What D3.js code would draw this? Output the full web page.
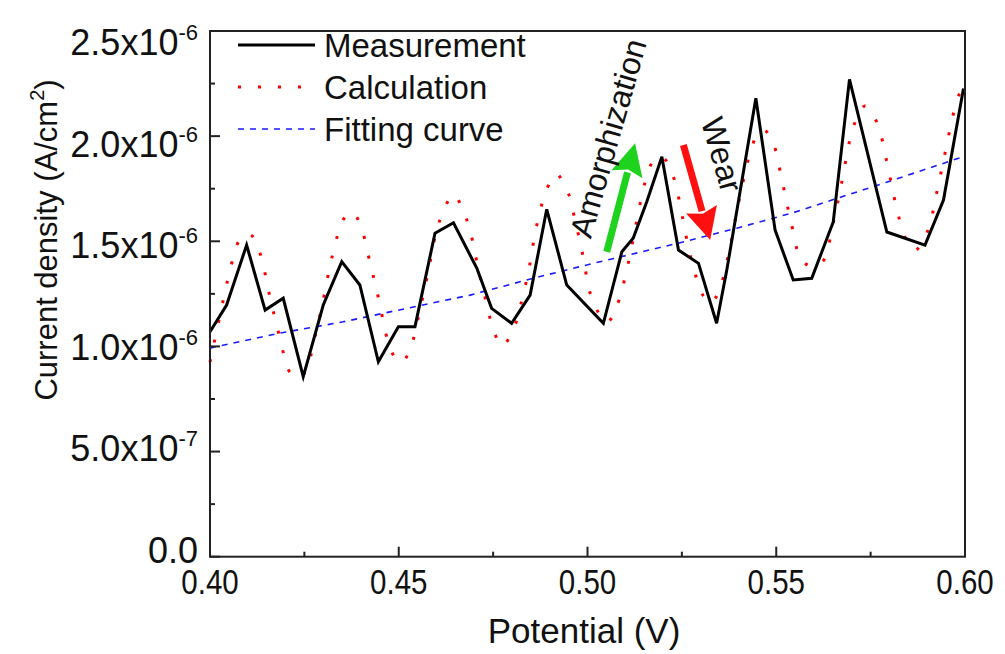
<!DOCTYPE html>
<html>
<head>
<meta charset="utf-8">
<script src="https://cdn.jsdelivr.net/npm/d3@7"></script>
<style>
  body { margin: 0; background: #fff; }
  text { font-family: "Liberation Sans", Arial, sans-serif; fill: #111; }
</style>
</head>
<body>
<svg width="1005" height="654"></svg>
<script>
// Measurement (black solid), V and current density in 1e-6 A/cm2
const measV = [0.400, 0.4044, 0.4097, 0.4146, 0.4194, 0.4247, 0.4300, 0.4349, 0.4397, 0.4446,
  0.4499, 0.4543, 0.4596, 0.4645, 0.4707, 0.4746, 0.4799, 0.4848, 0.4892, 0.4945,
  0.5042, 0.5091, 0.5121, 0.5157, 0.5197, 0.5241, 0.5294, 0.5342, 0.5369, 0.5446,
  0.5497, 0.5545, 0.5594, 0.5651, 0.5694, 0.5793, 0.5894, 0.5943, 0.5996];
const measJ = [1.07, 1.197, 1.482, 1.173, 1.229, 0.856, 1.197, 1.403, 1.292, 0.927,
  1.094, 1.094, 1.538, 1.588, 1.371, 1.181, 1.110, 1.244, 1.652, 1.292,
  1.110, 1.450, 1.514, 1.688, 1.902, 1.458, 1.395, 1.110, 1.363, 2.180,
  1.553, 1.316, 1.324, 1.592, 2.270, 1.544, 1.482, 1.696, 2.227];

// Calculation (red dotted)
const calcV = [0.400, 0.4025, 0.4048, 0.4077, 0.4095, 0.4112, 0.4134, 0.4157, 0.4182, 0.4212,
  0.4230, 0.4250, 0.4280, 0.4302, 0.4324, 0.4355, 0.4376, 0.4397, 0.4424, 0.4448,
  0.4471, 0.4493, 0.4509, 0.4530, 0.4556, 0.4578, 0.4599, 0.4616, 0.4645, 0.4671,
  0.4689, 0.4711, 0.4735, 0.4749, 0.4774, 0.4808, 0.4823, 0.4846, 0.4864, 0.4892,
  0.4917, 0.4951, 0.4964, 0.4987, 0.5007, 0.5029, 0.5046, 0.5064, 0.5084, 0.5110,
  0.5130, 0.5152, 0.5170, 0.5187, 0.5205, 0.5229, 0.5252, 0.5273, 0.5307, 0.5327,
  0.5349, 0.5375, 0.5395, 0.5417, 0.5430, 0.5450, 0.5468, 0.5491, 0.5516, 0.5538,
  0.5567, 0.5595, 0.5623, 0.5651, 0.5673, 0.5706, 0.5735, 0.5766, 0.5793, 0.5815,
  0.5844, 0.5868, 0.5901, 0.5925, 0.5947, 0.5969, 0.5985, 0.6000];
const calcJ = [0.926, 1.134, 1.324, 1.503, 1.534, 1.525, 1.435, 1.249, 1.062, 0.875,
  0.850, 0.872, 1.059, 1.240, 1.430, 1.609, 1.639, 1.585, 1.398, 1.216,
  1.027, 0.939, 0.926, 0.986, 1.173, 1.355, 1.541, 1.633, 1.723, 1.644,
  1.550, 1.367, 1.186, 1.089, 1.002, 1.102, 1.197, 1.379, 1.564, 1.747,
  1.820, 1.720, 1.625, 1.439, 1.253, 1.160, 1.116, 1.134, 1.224, 1.411,
  1.593, 1.778, 1.871, 1.901, 1.890, 1.799, 1.611, 1.427, 1.240, 1.206,
  1.268, 1.450, 1.636, 1.823, 1.915, 2.009, 2.029, 1.971, 1.783, 1.601,
  1.411, 1.382, 1.403, 1.588, 1.776, 2.053, 2.143, 2.068, 1.878, 1.688,
  1.509, 1.458, 1.549, 1.731, 1.918, 2.105, 2.200, 2.252];

// Fitting curve (blue dashed)
const fitV = [0.400, 0.4181, 0.4353, 0.4521, 0.4689, 0.4856, 0.5015, 0.5245, 0.5395, 0.5545, 0.5801, 0.600];
const fitJ = [0.992, 1.062, 1.117, 1.181, 1.244, 1.324, 1.395, 1.493, 1.562, 1.636, 1.786, 1.905];

const xTicks = [0.40, 0.45, 0.50, 0.55, 0.60];
const xTickLabels = ["0.40", "0.45", "0.50", "0.55", "0.60"];
const xMinor = [0.425, 0.475, 0.525, 0.575];
const yTicks = [0, 0.5, 1.0, 1.5, 2.0, 2.5];
const yTickBase = ["0.0", "5.0x10", "1.0x10", "1.5x10", "2.0x10", "2.5x10"];
const yTickExp = ["", "-7", "-6", "-6", "-6", "-6"];
const yMinor = [0.25, 0.75, 1.25, 1.75, 2.25];

const seriesNames = ["Measurement", "Calculation", "Fitting curve"];

const svg = d3.select('svg');
const plotLeft = 210, plotRight = 965, plotTop = 31, plotBottom = 556.7;

const x = d3.scaleLinear().domain([0.4, 0.6]).range([plotLeft, plotRight]);
const y = d3.scaleLinear().domain([0, 2.5]).range([plotBottom, plotTop]);
// the tick labels in the original sit on a slightly tighter spacing than the ticks
const yLabel = d3.scaleLinear().domain([0, 2.5]).range([550, 42]);

// series
const toPts = (vs, js) => vs.map((v, i) => [v, js[i]]);
const lineGen = d3.line().x(d => x(d[0])).y(d => y(d[1]));

svg.append('path')
  .attr('d', lineGen.curve(d3.curveLinear)(toPts(fitV, fitJ)))
  .attr('fill', 'none').attr('stroke', '#1a1aff')
  .attr('stroke-width', 1.6).attr('stroke-dasharray', '6,6');

svg.append('path')
  .attr('d', lineGen.curve(d3.curveCatmullRom)(toPts(calcV, calcJ)))
  .attr('fill', 'none').attr('stroke', '#ff0000')
  .attr('stroke-width', 3).attr('stroke-dasharray', '3,17');

svg.append('path')
  .attr('d', lineGen.curve(d3.curveLinear)(toPts(measV, measJ)))
  .attr('fill', 'none').attr('stroke', '#000')
  .attr('stroke-width', 3).attr('stroke-linejoin', 'miter');

// frame
svg.append('rect')
  .attr('x', plotLeft).attr('y', plotTop)
  .attr('width', plotRight - plotLeft).attr('height', plotBottom - plotTop)
  .attr('fill', 'none').attr('stroke', '#222').attr('stroke-width', 2);

// ticks (inside)
const tickG = svg.append('g').attr('stroke', '#222').attr('stroke-width', 2);
xTicks.forEach(v => tickG.append('line').attr('x1', x(v)).attr('x2', x(v)).attr('y1', plotBottom).attr('y2', plotBottom - 10));
xMinor.forEach(v => tickG.append('line').attr('x1', x(v)).attr('x2', x(v)).attr('y1', plotBottom).attr('y2', plotBottom - 5));
yTicks.forEach(v => tickG.append('line').attr('x1', plotLeft).attr('x2', plotLeft + 10).attr('y1', y(v)).attr('y2', y(v)));
yMinor.forEach(v => tickG.append('line').attr('x1', plotLeft).attr('x2', plotLeft + 5).attr('y1', y(v)).attr('y2', y(v)));

// x tick labels (narrow, tall glyphs)
xTicks.forEach((v, i) => {
  svg.append('text')
    .attr('transform', `translate(${x(v)},${plotBottom + 37}) scale(0.82,1)`)
    .attr('text-anchor', 'middle')
    .style('font-size', '36px')
    .text(xTickLabels[i]);
});

// y tick labels with superscript exponent
yTicks.forEach((v, i) => {
  const t = svg.append('text')
    .attr('x', 198).attr('y', yLabel(v) + 13)
    .attr('text-anchor', 'end')
    .style('font-size', '36px');
  t.append('tspan').text(yTickBase[i]);
  if (yTickExp[i]) {
    t.append('tspan').attr('dy', -15).style('font-size', '22px').text(yTickExp[i]);
  }
});

// axis titles
svg.append('text')
  .attr('x', 584).attr('y', 643)
  .attr('text-anchor', 'middle')
  .style('font-size', '35px')
  .text('Potential (V)');

const yt = svg.append('text')
  .attr('transform', 'translate(57,240) rotate(-90)')
  .attr('text-anchor', 'middle')
  .style('font-size', '31px');
yt.append('tspan').text('Current density (A/cm');
yt.append('tspan').attr('dy', -13).style('font-size', '20px').text('2');
yt.append('tspan').attr('dy', 13).text(')');

// legend
const legendY = [45, 87, 129];
const legendStyle = [
  { stroke: '#000', width: 3, dash: null },
  { stroke: '#ff0000', width: 3, dash: '3,17' },
  { stroke: '#1a1aff', width: 1.6, dash: '6,6' }
];
seriesNames.forEach((name, i) => {
  const s = legendStyle[i];
  svg.append('line')
    .attr('x1', 238).attr('x2', 315)
    .attr('y1', legendY[i]).attr('y2', legendY[i])
    .attr('stroke', s.stroke).attr('stroke-width', s.width)
    .attr('stroke-dasharray', s.dash);
  svg.append('text')
    .attr('x', 324).attr('y', legendY[i] + 12)
    .style('font-size', '33px')
    .text(name);
});

// annotations: arrows and labels
function arrow(x1, y1, x2, y2, color) {
  const ang = Math.atan2(y2 - y1, x2 - x1);
  const headLen = 32, headW = 16;
  const bx = x2 - headLen * Math.cos(ang), by = y2 - headLen * Math.sin(ang);
  const nx = -Math.sin(ang), ny = Math.cos(ang);
  svg.append('line')
    .attr('x1', x1).attr('y1', y1).attr('x2', bx + 2 * Math.cos(ang)).attr('y2', by + 2 * Math.sin(ang))
    .attr('stroke', color).attr('stroke-width', 7);
  svg.append('path')
    .attr('d', `M${x2},${y2}L${bx + nx * headW},${by + ny * headW}L${bx + 0.15 * (x2 - bx)},${by + 0.15 * (y2 - by)}L${bx - nx * headW},${by - ny * headW}Z`)
    .attr('fill', color);
}
arrow(x(0.5051), y(1.450), x(0.5126), y(1.966), '#1ed21e');
arrow(x(0.5254), y(1.958), x(0.5325), y(1.506), '#ff1010');

svg.append('text')
  .attr('transform', `translate(${x(0.5083)},${y(1.976)}) rotate(-74)`)
  .attr('text-anchor', 'middle')
  .style('font-size', '32px')
  .text('Amorphization');

svg.append('text')
  .attr('transform', `translate(${x(0.5328)},${y(1.897)}) rotate(74)`)
  .attr('text-anchor', 'middle')
  .style('font-size', '32px')
  .text('Wear');
</script>
</body>
</html>
